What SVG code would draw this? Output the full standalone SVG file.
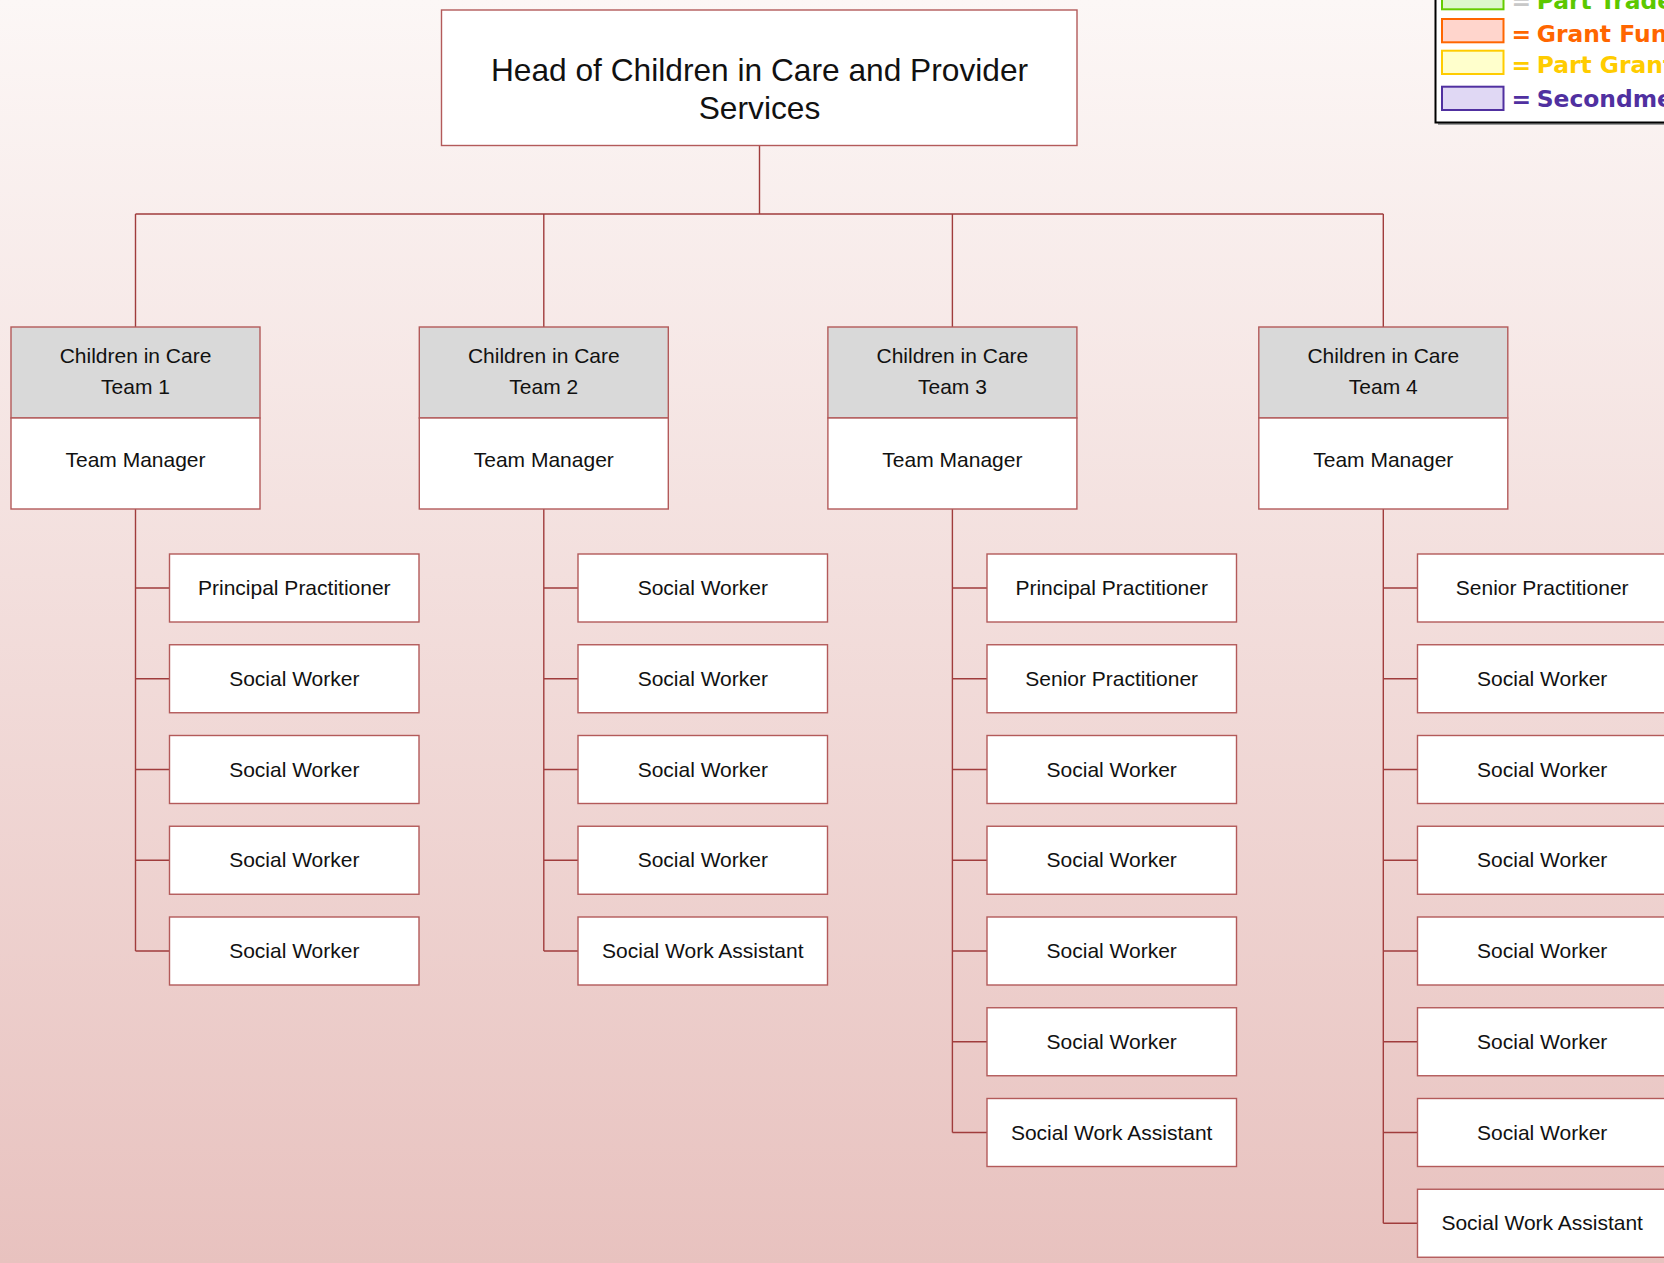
<svg xmlns="http://www.w3.org/2000/svg" width="1664" height="1263" viewBox="0 0 1664 1263">
<defs>
<linearGradient id="bg" x1="0" y1="0" x2="0" y2="1">
<stop offset="0" stop-color="#FCF7F6"/>
<stop offset="1" stop-color="#E8C2BF"/>
</linearGradient>
</defs>
<style>
.box{fill:#FFFFFF;stroke:#B35A5A;stroke-width:1.4}
.hdr{fill:#D9D9D9;stroke:#B35A5A;stroke-width:1.4}
.con{fill:none;stroke:#A03C3C;stroke-width:1.4}
.t{font-family:"Liberation Sans",Arial,sans-serif;font-size:21px;fill:#111111;text-anchor:middle}
.h{font-family:"Liberation Sans",Arial,sans-serif;font-size:31.7px;fill:#111111;text-anchor:middle}
.lg{font-family:"DejaVu Sans",Verdana,sans-serif;font-size:23.4px;font-weight:bold}
</style>
<rect x="0" y="0" width="1664" height="1263" fill="url(#bg)"/>

<g id="connectors">
<path class="con" d="M759.5 145.5V214M135.5 214H1383.3M135.5 214V327M543.8 214V327M952.4 214V327M1383.3 214V327"/>
<path class="con" d="M135.5 509V951M135.5 588H169.5M135.5 678.75H169.5M135.5 769.5H169.5M135.5 860.25H169.5M135.5 951H169.5"/>
<path class="con" d="M543.8 509V951M543.8 588H578M543.8 678.75H578M543.8 769.5H578M543.8 860.25H578M543.8 951H578"/>
<path class="con" d="M952.4 509V1132.5M952.4 588H987M952.4 678.75H987M952.4 769.5H987M952.4 860.25H987M952.4 951H987M952.4 1041.75H987M952.4 1132.5H987"/>
<path class="con" d="M1383.3 509V1223.25M1383.3 588H1417.5M1383.3 678.75H1417.5M1383.3 769.5H1417.5M1383.3 860.25H1417.5M1383.3 951H1417.5M1383.3 1041.75H1417.5M1383.3 1132.5H1417.5M1383.3 1223.25H1417.5"/>
</g>

<g id="head">
<rect class="box" x="441.5" y="10" width="635.5" height="135.5"/>
<text class="h" x="759.5" y="81">Head of Children in Care and Provider</text>
<text class="h" x="759.5" y="119">Services</text>
</g>

<g id="team1">
<rect class="hdr" x="11" y="327" width="249" height="91"/>
<rect class="box" x="11" y="418" width="249" height="91"/>
<text class="t" x="135.5" y="362.7">Children in Care</text>
<text class="t" x="135.5" y="394">Team 1</text>
<text class="t" x="135.5" y="466.7">Team Manager</text>
</g>
<g id="team2">
<rect class="hdr" x="419.3" y="327" width="249" height="91"/>
<rect class="box" x="419.3" y="418" width="249" height="91"/>
<text class="t" x="543.8" y="362.7">Children in Care</text>
<text class="t" x="543.8" y="394">Team 2</text>
<text class="t" x="543.8" y="466.7">Team Manager</text>
</g>
<g id="team3">
<rect class="hdr" x="827.9" y="327" width="249" height="91"/>
<rect class="box" x="827.9" y="418" width="249" height="91"/>
<text class="t" x="952.4" y="362.7">Children in Care</text>
<text class="t" x="952.4" y="394">Team 3</text>
<text class="t" x="952.4" y="466.7">Team Manager</text>
</g>
<g id="team4">
<rect class="hdr" x="1258.8" y="327" width="249" height="91"/>
<rect class="box" x="1258.8" y="418" width="249" height="91"/>
<text class="t" x="1383.3" y="362.7">Children in Care</text>
<text class="t" x="1383.3" y="394">Team 4</text>
<text class="t" x="1383.3" y="466.7">Team Manager</text>
</g>

<g id="t1c1"><rect class="box" x="169.5" y="554" width="249.5" height="68"/><text class="t" x="294.3" y="595">Principal Practitioner</text></g>
<g id="t1c2"><rect class="box" x="169.5" y="644.75" width="249.5" height="68"/><text class="t" x="294.3" y="685.75">Social Worker</text></g>
<g id="t1c3"><rect class="box" x="169.5" y="735.5" width="249.5" height="68"/><text class="t" x="294.3" y="776.5">Social Worker</text></g>
<g id="t1c4"><rect class="box" x="169.5" y="826.25" width="249.5" height="68"/><text class="t" x="294.3" y="867.25">Social Worker</text></g>
<g id="t1c5"><rect class="box" x="169.5" y="917" width="249.5" height="68"/><text class="t" x="294.3" y="958">Social Worker</text></g>

<g id="t2c1"><rect class="box" x="578" y="554" width="249.5" height="68"/><text class="t" x="702.8" y="595">Social Worker</text></g>
<g id="t2c2"><rect class="box" x="578" y="644.75" width="249.5" height="68"/><text class="t" x="702.8" y="685.75">Social Worker</text></g>
<g id="t2c3"><rect class="box" x="578" y="735.5" width="249.5" height="68"/><text class="t" x="702.8" y="776.5">Social Worker</text></g>
<g id="t2c4"><rect class="box" x="578" y="826.25" width="249.5" height="68"/><text class="t" x="702.8" y="867.25">Social Worker</text></g>
<g id="t2c5"><rect class="box" x="578" y="917" width="249.5" height="68"/><text class="t" x="702.8" y="958">Social Work Assistant</text></g>

<g id="t3c1"><rect class="box" x="987" y="554" width="249.5" height="68"/><text class="t" x="1111.7" y="595">Principal Practitioner</text></g>
<g id="t3c2"><rect class="box" x="987" y="644.75" width="249.5" height="68"/><text class="t" x="1111.7" y="685.75">Senior Practitioner</text></g>
<g id="t3c3"><rect class="box" x="987" y="735.5" width="249.5" height="68"/><text class="t" x="1111.7" y="776.5">Social Worker</text></g>
<g id="t3c4"><rect class="box" x="987" y="826.25" width="249.5" height="68"/><text class="t" x="1111.7" y="867.25">Social Worker</text></g>
<g id="t3c5"><rect class="box" x="987" y="917" width="249.5" height="68"/><text class="t" x="1111.7" y="958">Social Worker</text></g>
<g id="t3c6"><rect class="box" x="987" y="1007.75" width="249.5" height="68"/><text class="t" x="1111.7" y="1048.75">Social Worker</text></g>
<g id="t3c7"><rect class="box" x="987" y="1098.5" width="249.5" height="68"/><text class="t" x="1111.7" y="1139.5">Social Work Assistant</text></g>

<g id="t4c1"><rect class="box" x="1417.5" y="554" width="249.5" height="68"/><text class="t" x="1542.2" y="595">Senior Practitioner</text></g>
<g id="t4c2"><rect class="box" x="1417.5" y="644.75" width="249.5" height="68"/><text class="t" x="1542.2" y="685.75">Social Worker</text></g>
<g id="t4c3"><rect class="box" x="1417.5" y="735.5" width="249.5" height="68"/><text class="t" x="1542.2" y="776.5">Social Worker</text></g>
<g id="t4c4"><rect class="box" x="1417.5" y="826.25" width="249.5" height="68"/><text class="t" x="1542.2" y="867.25">Social Worker</text></g>
<g id="t4c5"><rect class="box" x="1417.5" y="917" width="249.5" height="68"/><text class="t" x="1542.2" y="958">Social Worker</text></g>
<g id="t4c6"><rect class="box" x="1417.5" y="1007.75" width="249.5" height="68"/><text class="t" x="1542.2" y="1048.75">Social Worker</text></g>
<g id="t4c7"><rect class="box" x="1417.5" y="1098.5" width="249.5" height="68"/><text class="t" x="1542.2" y="1139.5">Social Worker</text></g>
<g id="t4c8"><rect class="box" x="1417.5" y="1189.25" width="249.5" height="68"/><text class="t" x="1542.2" y="1230.25">Social Work Assistant</text></g>

<g id="legend">
<rect x="1438" y="-8" width="240" height="133" fill="#9A9A9A"/>
<rect x="1435.5" y="-10" width="240" height="132.5" fill="#FFFFFF" stroke="#000000" stroke-width="2"/>
<rect x="1442" y="-14" width="61.5" height="23.3" fill="#DDF8CC" stroke="#66CC00" stroke-width="2"/>
<rect x="1442" y="19" width="61.5" height="23.3" fill="#FFD5CC" stroke="#FF6600" stroke-width="2"/>
<rect x="1442" y="50.7" width="61.5" height="23.3" fill="#FFFFCC" stroke="#FFCC00" stroke-width="2"/>
<rect x="1442" y="86.7" width="61.5" height="23.3" fill="#E0D8F4" stroke="#5030A0" stroke-width="2"/>
<text class="lg" y="8.5"><tspan x="1511.5" fill="#C8C8C8">=</tspan><tspan x="1536.7" fill="#5CC800">Part Traded</tspan></text>
<text class="lg" y="41.7" fill="#FF6600"><tspan x="1511.5">=</tspan><tspan x="1536.7">Grant Funded</tspan></text>
<text class="lg" y="73.3" fill="#FFCC00"><tspan x="1511.5">=</tspan><tspan x="1536.7">Part Grant Funded</tspan></text>
<text class="lg" y="107.3" fill="#5030A0"><tspan x="1511.5">=</tspan><tspan x="1536.7">Secondment</tspan></text>
</g>
</svg>
